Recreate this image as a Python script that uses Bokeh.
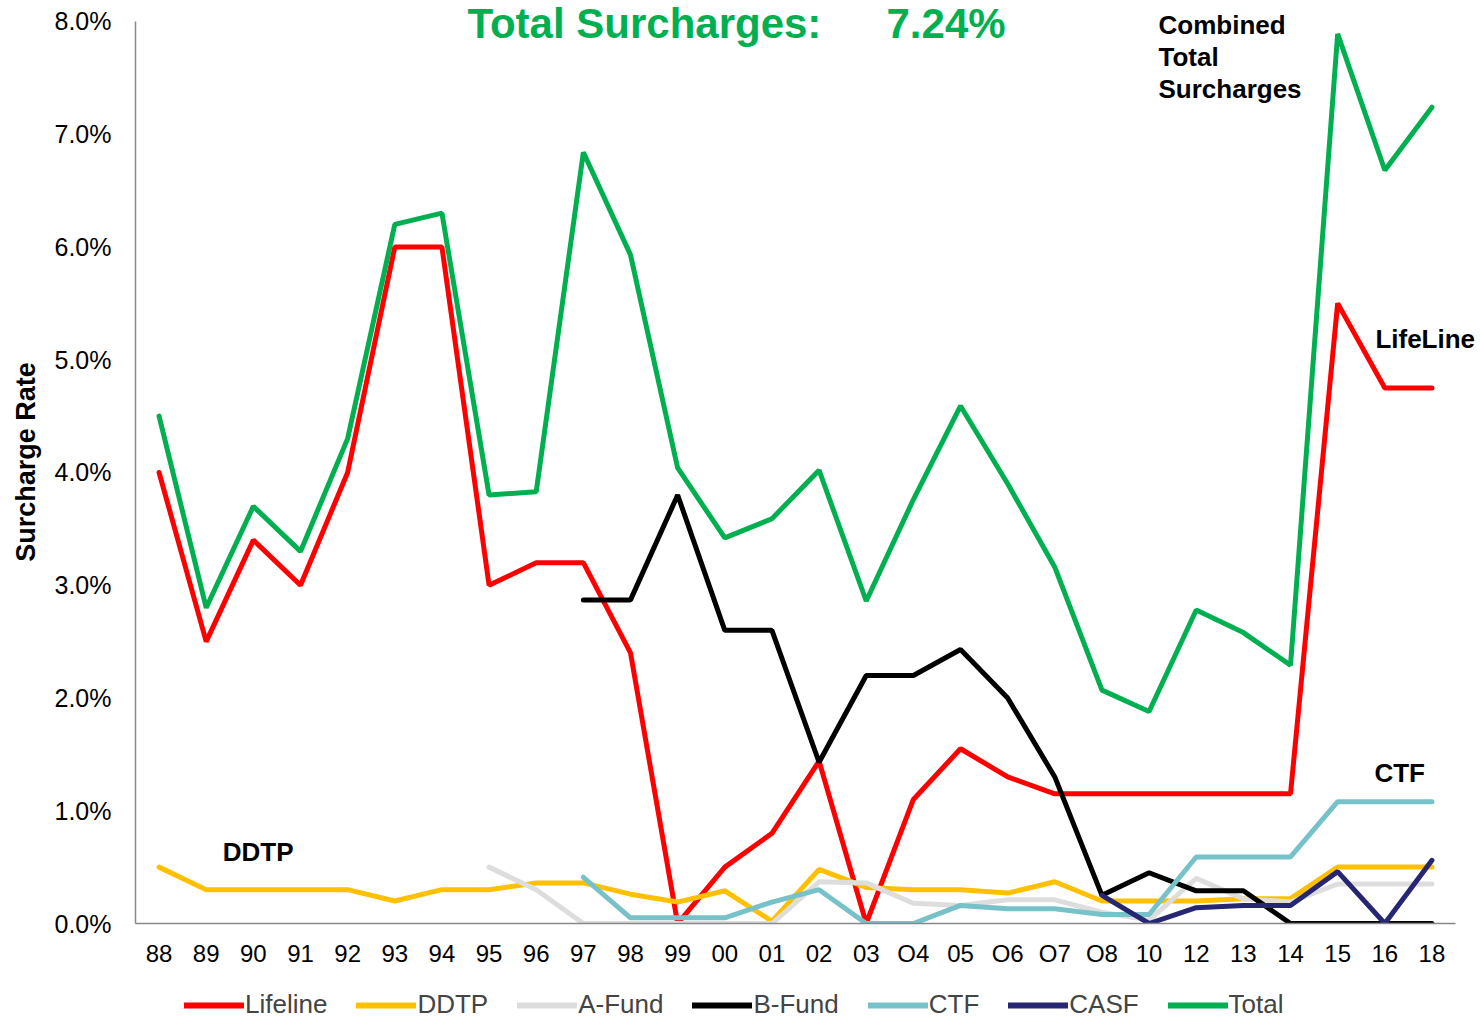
import math
from bokeh.plotting import figure
from bokeh.layouts import column
from bokeh.models import (Range1d, Legend, LegendItem, Label,
                          NumeralTickFormatter, FixedTicker)
from bokeh.embed import file_html
from bokeh.resources import INLINE

nan = float("nan")

years = ["88", "89", "90", "91", "92", "93", "94", "95", "96", "97", "98", "99",
         "00", "01", "02", "03", "O4", "05", "O6", "O7", "O8", "10", "12", "13",
         "14", "15", "16", "18"]

# surcharge rates in percent
lifeline = [4.0, 2.5, 3.4, 3.0, 4.0, 6.0, 6.0, 3.0, 3.2, 3.2, 2.4, 0.0,
            0.5, 0.8, 1.44, 0.0, 1.1, 1.55, 1.3, 1.15, 1.15, 1.15, 1.15, 1.15,
            1.15, 5.5, 4.75, 4.75]
ddtp = [0.5, 0.3, 0.3, 0.3, 0.3, 0.2, 0.3, 0.3, 0.36, 0.36, 0.26, 0.19,
        0.29, 0.02, 0.48, 0.32, 0.3, 0.3, 0.27, 0.37, 0.2, 0.2, 0.2, 0.22,
        0.22, 0.5, 0.5, 0.5]
afund = [nan, nan, nan, nan, nan, nan, nan, 0.5, 0.3, 0.0, 0.0, 0.0,
         0.0, 0.0, 0.37, 0.36, 0.18, 0.16, 0.21, 0.21, 0.1, 0.03, 0.4, 0.22,
         0.19, 0.35, 0.35, 0.35]
bfund = [nan, nan, nan, nan, nan, nan, nan, nan, nan, 2.87, 2.87, 3.8,
         2.6, 2.6, 1.43, 2.2, 2.2, 2.43, 2.0, 1.3, 0.25, 0.45, 0.29, 0.29,
         0.0, 0.0, 0.0, 0.0]
ctf = [nan, nan, nan, nan, nan, nan, nan, nan, nan, 0.41, 0.05, 0.05,
       0.05, 0.19, 0.3, 0.0, 0.0, 0.16, 0.13, 0.13, 0.08, 0.08, 0.59, 0.59,
       0.59, 1.08, 1.08, 1.08]
casf = [nan, nan, nan, nan, nan, nan, nan, nan, nan, nan, nan, nan,
        nan, nan, nan, nan, nan, nan, nan, nan, 0.25, 0.0, 0.14, 0.16,
        0.16, 0.46, 0.0, 0.56]
total = [4.5, 2.8, 3.7, 3.3, 4.3, 6.2, 6.3, 3.8, 3.83, 6.84, 5.93, 4.04,
         3.42, 3.59, 4.02, 2.86, 3.76, 4.59, 3.9, 3.16, 2.07, 1.88, 2.78, 2.58,
         2.29, 7.89, 6.68, 7.24]

series_names = ["Lifeline", "DDTP", "A-Fund", "B-Fund", "CTF", "CASF", "Total"]
series_values = [lifeline, ddtp, afund, bfund, ctf, casf, total]
series_colors = ["#FF0000", "#FFC000", "#DDDDDD", "#000000", "#76C2C8",
                 "#262673", "#00B050"]
y_ticks = [0.0, 0.01, 0.02, 0.03, 0.04, 0.05, 0.06, 0.07, 0.08]

FONT = "Liberation Sans"
xpos = list(range(len(years)))

p = figure(width=1476, height=972, output_backend="svg", toolbar_location=None,
           x_range=Range1d(-0.5, 27.945),
           y_range=Range1d(0, 0.08186),
           min_border_left=135, min_border_right=0,
           min_border_top=0, min_border_bottom=49)
p.outline_line_color = None
p.xgrid.visible = False
p.ygrid.visible = False
p.background_fill_color = "white"
p.border_fill_color = "white"

for ax in (p.xaxis[0], p.yaxis[0]):
    ax.axis_line_color = "#888888"
    ax.axis_line_width = 1.5
    ax.major_tick_line_color = None
    ax.minor_tick_line_color = None
    ax.major_tick_out = 0
    ax.major_tick_in = 0
    ax.major_label_text_font = FONT
    ax.major_label_text_color = "black"

p.xaxis.bounds = (-0.5, len(years) - 0.5)
p.xaxis.ticker = FixedTicker(ticks=xpos)
p.xaxis.major_label_overrides = {i: y for i, y in zip(xpos, years)}
p.xaxis.major_label_text_font_size = "24px"
p.xaxis.major_label_standoff = 16
p.yaxis.bounds = (0, 0.08)
p.yaxis.major_label_text_font_size = "25px"
p.yaxis.major_label_standoff = 24
p.yaxis.ticker = FixedTicker(ticks=y_ticks)
p.yaxis.formatter = NumeralTickFormatter(format="0.0%")
p.yaxis.axis_label = "Surcharge Rate"
p.yaxis.axis_label_text_font = FONT
p.yaxis.axis_label_text_font_style = "bold"
p.yaxis.axis_label_text_font_size = "27px"
p.yaxis.axis_label_standoff = 11
p.yaxis.axis_label_text_color = "black"

for name, vals, col in zip(series_names, series_values, series_colors):
    ys = [v / 100.0 if not math.isnan(v) else nan for v in vals]
    p.line(x=xpos, y=ys, line_color=col, line_width=5, line_cap="round")

def add_label(text, x, y, size, color="black"):
    p.add_layout(Label(x=x, y=y, text=text, text_font=FONT,
                       text_font_style="bold", text_font_size=size,
                       text_color=color, text_baseline="alphabetic",
                       text_align="left"))

add_label("Total Surcharges:", 6.54, 0.07985, "42px", "#00B050")
add_label("7.24%", 15.43, 0.07985, "42px", "#00B050")
add_label("Combined", 21.20, 0.07965, "26px")
add_label("Total", 21.20, 0.07681, "26px")
add_label("Surcharges", 21.20, 0.07397, "26px")
add_label("LifeLine", 25.80, 0.0518, "26px")
add_label("CTF", 25.78, 0.01339, "26px")
add_label("DDTP", 1.35, 0.0063, "26px")

# legend strip below the chart
q = figure(width=1476, height=50, output_backend="svg", toolbar_location=None,
           x_range=Range1d(0, 1), y_range=Range1d(0, 1),
           min_border_left=0, min_border_right=0,
           min_border_top=0, min_border_bottom=0)
q.axis.visible = False
q.xgrid.visible = False
q.ygrid.visible = False
q.outline_line_color = None
q.background_fill_color = "white"
q.border_fill_color = "white"
items = []
for name, col in zip(series_names, series_colors):
    r = q.line(x=[nan], y=[nan], line_color=col, line_width=6, line_cap="round")
    items.append(LegendItem(label=name, renderers=[r]))
legend = Legend(items=items, orientation="horizontal", location=(49, 2),
                padding=0, margin=0, spacing=29, label_standoff=1,
                glyph_width=60, glyph_height=24, label_height=24,
                label_text_font=FONT, label_text_font_size="26px",
                border_line_color=None, background_fill_alpha=0)
q.add_layout(legend, "center")

layout = column(p, q, spacing=0)
open("out.html", "w").write(file_html(layout, INLINE))
